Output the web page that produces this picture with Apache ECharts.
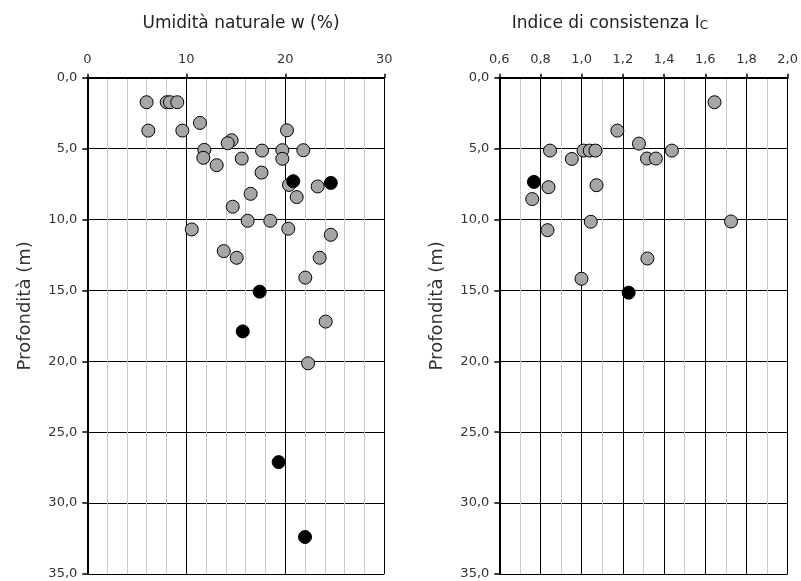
<!DOCTYPE html>
<html>
<head>
<meta charset="utf-8">
<script src="https://cdn.jsdelivr.net/npm/echarts@6/dist/echarts.min.js"></script>
<style>html,body{margin:0;padding:0;background:#fff}#c{width:801px;height:581px}</style>
</head>
<body>
<div id="c"></div>
<script>
// Left chart: natural water content w (%) vs depth (m)
var wGrayX = [5.99, 8.02, 8.35, 9.09, 6.16, 9.6, 11.38, 20.17, 14.58, 14.18, 11.82, 11.72, 13.07, 15.6, 17.65, 19.7, 19.7, 21.82, 17.6, 20.37, 23.27, 16.5, 21.15, 14.69, 16.2, 18.48, 20.3, 10.55, 24.6, 13.78, 15.09, 23.47, 22.02, 24.08, 22.3];
var wGrayY = [1.73, 1.73, 1.73, 1.73, 3.73, 3.73, 3.19, 3.71, 4.41, 4.62, 5.09, 5.65, 6.17, 5.7, 5.14, 5.11, 5.72, 5.11, 6.69, 7.56, 7.67, 8.19, 8.42, 9.1, 10.09, 10.09, 10.65, 10.7, 11.08, 12.23, 12.7, 12.7, 14.1, 17.2, 20.14];
var wBlackX = [20.8, 24.6, 17.41, 15.7, 19.33, 21.99];
var wBlackY = [7.3, 7.42, 15.09, 17.89, 27.11, 32.39];
// Right chart: consistency index Ic vs depth (m)
var icGrayX = [1.645, 1.173, 1.278, 0.846, 0.952, 1.009, 1.039, 1.067, 1.317, 1.36, 1.438, 0.839, 1.072, 0.76, 0.834, 1.044, 1.725, 1.319, 0.999];
var icGrayY = [1.73, 3.73, 4.65, 5.14, 5.73, 5.14, 5.14, 5.14, 5.7, 5.7, 5.14, 7.72, 7.58, 8.56, 10.75, 10.16, 10.14, 12.75, 14.18];
var icBlackX = [0.768, 1.228];
var icBlackY = [7.35, 15.16];

var titles = ['Umidità naturale w (%)', 'Indice di consistenza I{s|C}'];
var yName = 'Profondità (m)';

function zip(a, b) { return a.map(function (v, i) { return [v, b[i]]; }); }
function comma1(v) { return v.toFixed(1).replace('.', ','); }

var FONT = 'DejaVu Sans';
var txt = '#333';

function xAxis(idx, min, max, interval, minorN, fmt) {
  return {
    type: 'value', gridIndex: idx, position: 'top', min: min, max: max, interval: interval,
    axisLine: { show: true, onZero: false, lineStyle: { color: '#000', width: 2 } },
    axisTick: { show: true, inside: false, length: 4, lineStyle: { color: '#000', width: 1.5 } },
    axisLabel: { color: txt, fontFamily: FONT, fontSize: 13, margin: 12, formatter: fmt },
    splitLine: { show: true, lineStyle: { color: '#000', width: 1 } },
    minorTick: { show: false, splitNumber: minorN },
    minorSplitLine: { show: true, lineStyle: { color: '#c8c8c8', width: 1 } }
  };
}
function yAxis(idx) {
  return {
    type: 'value', gridIndex: idx, inverse: true, min: 0, max: 35, interval: 5,
    name: yName, nameLocation: 'middle', nameGap: 53, nameRotate: 90,
    nameTextStyle: { color: txt, fontFamily: FONT, fontSize: 18, padding: [0, 0, 0, 40] },
    axisLine: { show: true, onZero: false, lineStyle: { color: '#000', width: 2 } },
    axisTick: { show: true, length: 5, lineStyle: { color: '#000', width: 1.5 } },
    axisLabel: { color: txt, fontFamily: FONT, fontSize: 13, margin: 10, formatter: comma1 },
    splitLine: { show: true, lineStyle: { color: '#000', width: 1 } }
  };
}
function ser(xi, data, color, size) {
  return {
    type: 'scatter', xAxisIndex: xi, yAxisIndex: xi, data: data, symbolSize: size,
    itemStyle: { color: color, borderColor: '#000', borderWidth: 1, opacity: 1 },
    emphasis: { disabled: true }, silent: true, animation: false
  };
}

var chart = echarts.init(document.getElementById('c'), null, { renderer: 'canvas' });
chart.setOption({
  animation: false,
  backgroundColor: '#fff',
  title: [
    { text: titles[0], left: 236, top: 10, textAlign: 'center',
      textStyle: { color: '#222', fontFamily: FONT, fontSize: 17, fontWeight: 'normal' } },
    { text: titles[1], left: 605, top: 10, textAlign: 'center',
      textStyle: { color: '#222', fontFamily: FONT, fontSize: 17, fontWeight: 'normal',
        rich: { s: { fontFamily: FONT, fontSize: 12, color: '#222', padding: [5, 0, 0, 0] } } } }
  ],
  grid: [
    { left: 87.3, top: 77.7, width: 297, height: 496.3 },
    { left: 499.3, top: 77.7, width: 289, height: 496.3 }
  ],
  xAxis: [
    xAxis(0, 0, 30, 10, 5, function (v) { return String(v); }),
    xAxis(1, 0.6, 2.0, 0.2, 2, comma1)
  ],
  yAxis: [yAxis(0), yAxis(1)],
  series: [
    ser(0, zip(wGrayX, wGrayY), '#a6a6a6', 13),
    ser(0, zip(wBlackX, wBlackY), '#000', 13),
    ser(1, zip(icGrayX, icGrayY), '#a6a6a6', 13),
    ser(1, zip(icBlackX, icBlackY), '#000', 13)
  ]
});
</script>
</body>
</html>
